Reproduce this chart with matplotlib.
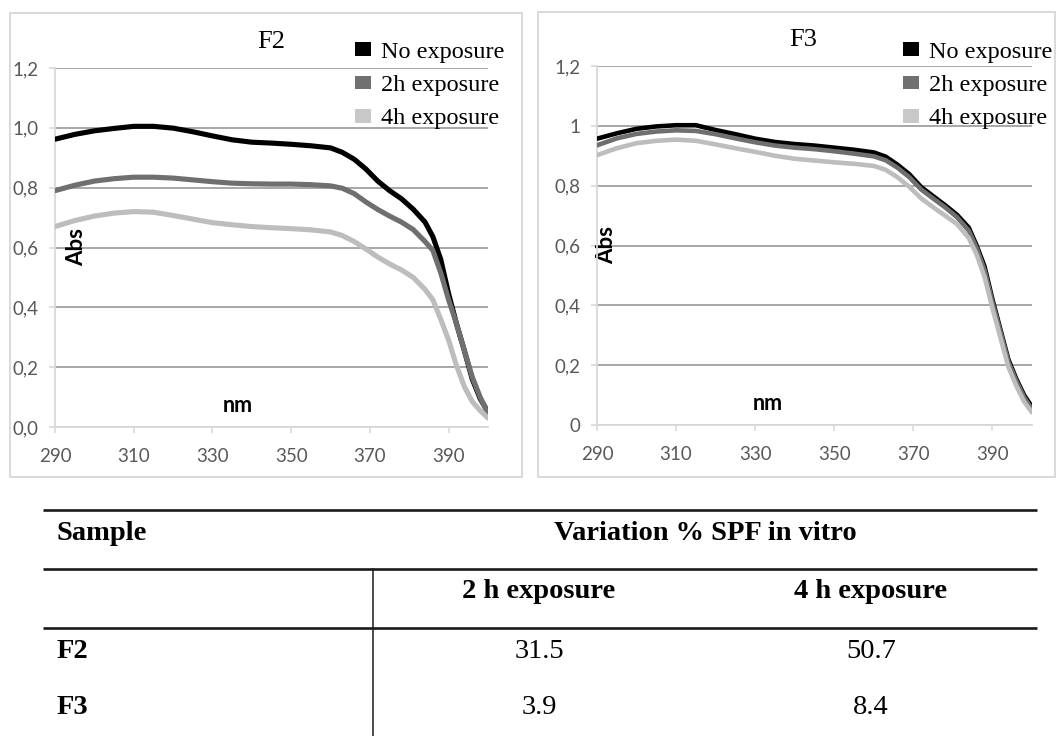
import matplotlib
matplotlib.use("Agg")
import matplotlib.pyplot as plt
from matplotlib.patches import Patch, Rectangle

# ---- spectra (absorbance vs wavelength) ----
wavelength = [290, 295, 300, 305, 310, 315, 320, 325, 330, 335, 340, 345, 350,
              355, 360, 363, 366, 369, 372, 375, 378, 381, 384, 386, 388, 390,
              392, 394, 396, 398, 400]

f2_none = [0.962, 0.978, 0.990, 0.998, 1.005, 1.005, 0.999, 0.987, 0.973, 0.960,
           0.952, 0.949, 0.945, 0.940, 0.933, 0.918, 0.895, 0.862, 0.822, 0.790,
           0.763, 0.728, 0.685, 0.636, 0.560, 0.445, 0.345, 0.255, 0.160, 0.095, 0.050]
f2_2h = [0.790, 0.808, 0.822, 0.830, 0.835, 0.835, 0.832, 0.826, 0.820, 0.815,
         0.813, 0.812, 0.812, 0.810, 0.806, 0.798, 0.780, 0.752, 0.727, 0.705,
         0.685, 0.660, 0.620, 0.590, 0.515, 0.425, 0.345, 0.255, 0.167, 0.100, 0.045]
f2_4h = [0.670, 0.690, 0.705, 0.715, 0.720, 0.718, 0.707, 0.695, 0.683, 0.676,
         0.670, 0.666, 0.663, 0.659, 0.652, 0.640, 0.620, 0.595, 0.568, 0.545,
         0.525, 0.500, 0.460, 0.425, 0.360, 0.290, 0.205, 0.135, 0.085, 0.055, 0.030]

f3_none = [0.957, 0.975, 0.990, 0.998, 1.002, 1.002, 0.986, 0.972, 0.957, 0.946,
           0.939, 0.934, 0.927, 0.920, 0.911, 0.897, 0.870, 0.838, 0.795, 0.765,
           0.735, 0.703, 0.660, 0.600, 0.530, 0.420, 0.320, 0.220, 0.155, 0.100, 0.060]
f3_2h = [0.935, 0.958, 0.973, 0.981, 0.985, 0.983, 0.972, 0.958, 0.945, 0.934,
         0.927, 0.922, 0.915, 0.907, 0.898, 0.885, 0.860, 0.828, 0.787, 0.757,
         0.728, 0.695, 0.650, 0.592, 0.518, 0.410, 0.312, 0.212, 0.148, 0.093, 0.052]
f3_4h = [0.902, 0.925, 0.942, 0.950, 0.954, 0.950, 0.938, 0.925, 0.913, 0.900,
         0.890, 0.884, 0.878, 0.873, 0.866, 0.853, 0.828, 0.796, 0.757, 0.728,
         0.700, 0.672, 0.625, 0.570, 0.495, 0.390, 0.293, 0.195, 0.132, 0.078, 0.042]

series_labels = ["No exposure", "2h exposure", "4h exposure"]
line_colors = ["#000000", "#6f6f6f", "#bdbdbd"]
swatch_colors = ["#000000", "#707070", "#c8c8c8"]

x_ticks = [290, 310, 330, 350, 370, 390]
y_ticks = [0.0, 0.2, 0.4, 0.6, 0.8, 1.0, 1.2]
f2_ytick_labels = ["0,0", "0,2", "0,4", "0,6", "0,8", "1,0", "1,2"]
f3_ytick_labels = ["0", "0,2", "0,4", "0,6", "0,8", "1", "1,2"]

# ---- summary table ----
table_samples = ["F2", "F3"]
table_columns = ["2 h exposure", "4 h exposure"]
spf_variation_2h = [31.5, 3.9]
spf_variation_4h = [50.7, 8.4]

W, H = 1057, 736
fig = plt.figure(figsize=(W / 100, H / 100), dpi=100)
fig.patch.set_facecolor("white")

SERIF = "Liberation Serif"
SANS = "Lato"

# pixel-space overlay for panel frames and the table
ov = fig.add_axes([0, 0, 1, 1], zorder=0)
ov.set_xlim(0, W)
ov.set_ylim(H, 0)
ov.axis("off")
for (x0, y0, x1, y1) in [(10, 13, 522, 477), (538, 12, 1055, 477)]:
    ov.add_patch(Rectangle((x0, y0), x1 - x0, y1 - y0, fill=False,
                           edgecolor="#d9d9d9", lw=1.4))


def spectrum_panel(rect, title, title_x, curves, ytick_labels, legend_x,
                   ylabel_x, xlabel_x, lw):
    ax = fig.add_axes(rect, zorder=2)
    ax.set_facecolor("none")
    for vals, color in zip(curves, line_colors):
        ax.plot(wavelength, vals, color=color, lw=lw,
                solid_capstyle="round", solid_joinstyle="round", zorder=3)
    ax.set_xlim(290, 400)
    ax.set_ylim(0, 1.2)
    ax.set_xticks(x_ticks)
    ax.set_yticks(y_ticks)
    ax.set_yticklabels(ytick_labels)
    ax.set_axisbelow(True)
    ax.yaxis.grid(True, color="#8f8f8f", lw=1.1)
    for side in ["top", "right"]:
        ax.spines[side].set_visible(False)
    for side in ["left", "bottom"]:
        ax.spines[side].set_color("#d9d9d9")
        ax.spines[side].set_linewidth(1.3)
        ax.spines[side].set_zorder(2.6)
    ax.tick_params(axis="both", direction="out", length=4, width=1.2,
                   color="#d9d9d9", labelcolor="#595959", labelsize=13.5)
    ax.tick_params(axis="x", pad=11)
    ax.tick_params(axis="y", pad=8)
    for lab in ax.get_xticklabels() + ax.get_yticklabels():
        lab.set_fontfamily(SANS)

    ax.text(title_x, 1.072, title, transform=ax.transAxes, ha="center",
            va="center", fontsize=19, fontfamily=SERIF)
    ax.set_ylabel("Abs", fontsize=16, fontweight="bold", fontfamily=SANS)
    ax.yaxis.set_label_coords(ylabel_x, 0.5)
    ax.yaxis.label.set_verticalalignment("center")
    ax.set_xlabel("nm", fontsize=15.5, fontweight="bold", fontfamily=SANS)
    ax.xaxis.set_label_coords(xlabel_x, 0.061)
    ax.xaxis.label.set_verticalalignment("center")

    handles = [Patch(facecolor=c, edgecolor="none", label=l)
               for c, l in zip(swatch_colors, series_labels)]
    ax.legend(handles=handles, loc="upper left",
              bbox_to_anchor=(legend_x / W, 1 - 42 / H),
              bbox_transform=fig.transFigure, frameon=False,
              borderpad=0, borderaxespad=0, handlelength=0.65,
              handleheight=0.5, handletextpad=0.4, labelspacing=0.5,
              prop={"family": SERIF, "size": 17.5})
    return ax


spectrum_panel([55 / W, 1 - 427 / H, 433 / W, 359 / H], "F2", 0.5,
               [f2_none, f2_2h, f2_4h], f2_ytick_labels, 355, 0.051, 0.423, 3.7)
spectrum_panel([597 / W, 1 - 425 / H, 435 / W, 359 / H], "F3", 0.474,
               [f3_none, f3_2h, f3_4h], f3_ytick_labels, 903, 0.023, 0.393, 3.3)

# table rules
for y in [510, 569, 628]:
    ov.plot([43, 1037], [y, y], color="#1a1a1a", lw=1.9, solid_capstyle="butt")
ov.plot([373, 373], [569, H], color="#1a1a1a", lw=1.1)

tbl_bold = dict(fontfamily=SERIF, fontweight="bold", fontsize=20.5, va="center")
tbl_reg = dict(fontfamily=SERIF, fontsize=20.5, va="center")
col_x = [539, 871]
row_y = [652, 707]

ov.text(57, 533, "Sample", ha="left", **tbl_bold)
ov.text(705, 533, "Variation % SPF in vitro", ha="center", **tbl_bold)
for cx, name in zip(col_x, table_columns):
    ov.text(cx, 592, name, ha="center", **tbl_bold)
for ry, name, v2, v4 in zip(row_y, table_samples, spf_variation_2h, spf_variation_4h):
    ov.text(57, ry, name, ha="left", **tbl_bold)
    ov.text(col_x[0], ry, f"{v2:.1f}", ha="center", **tbl_reg)
    ov.text(col_x[1], ry, f"{v4:.1f}", ha="center", **tbl_reg)

fig.savefig("out.png", dpi=100, facecolor="white")
